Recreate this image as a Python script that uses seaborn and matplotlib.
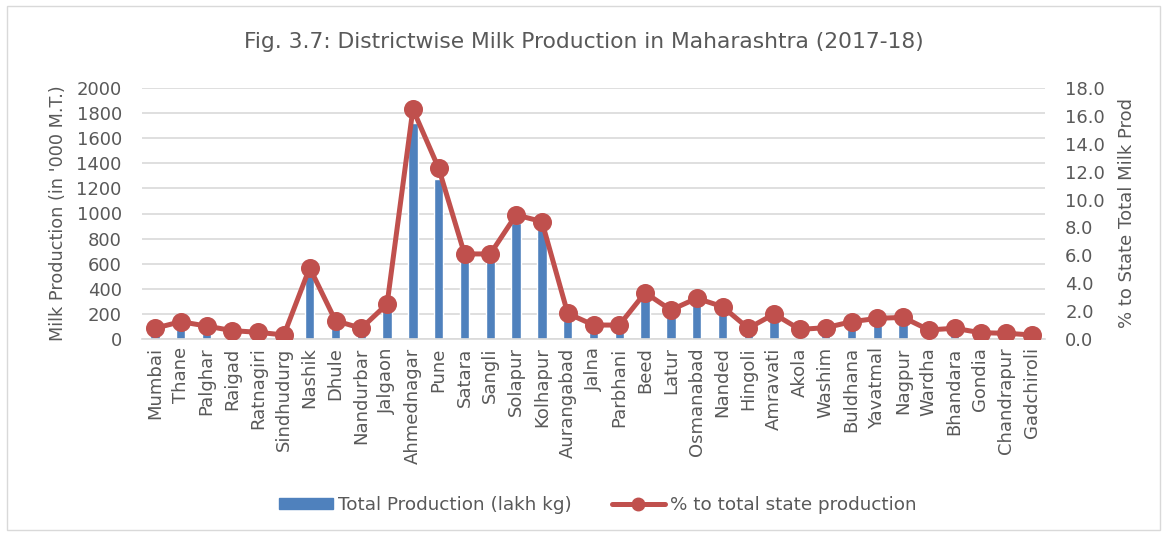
import matplotlib
matplotlib.use("Agg")
import matplotlib.pyplot as plt
import seaborn as sns
import pandas as pd
from matplotlib.patches import Rectangle
from matplotlib.lines import Line2D
from matplotlib.ticker import FuncFormatter, MultipleLocator

districts = ["Mumbai", "Thane", "Palghar", "Raigad", "Ratnagiri", "Sindhudurg", "Nashik",
             "Dhule", "Nandurbar", "Jalgaon", "Ahmednagar", "Pune", "Satara", "Sangli",
             "Solapur", "Kolhapur", "Aurangabad", "Jalna", "Parbhani", "Beed", "Latur",
             "Osmanabad", "Nanded", "Hingoli", "Amravati", "Akola", "Washim", "Buldhana",
             "Yavatmal", "Nagpur", "Wardha", "Bhandara", "Gondia", "Chandrapur", "Gadchiroli"]
production = [80, 130, 97, 63, 50, 30, 515, 137, 80, 262, 1721, 1272, 636, 636, 925, 876,
              192, 104, 104, 346, 217, 304, 242, 80, 187, 72, 84, 129, 154, 161, 68, 80,
              47, 43, 30]
share_pct = [0.77, 1.24, 0.93, 0.60, 0.48, 0.29, 5.11, 1.31, 0.77, 2.51, 16.48, 12.24, 6.10,
             6.10, 8.90, 8.42, 1.84, 1.00, 1.00, 3.32, 2.08, 2.92, 2.32, 0.77, 1.79, 0.69,
             0.81, 1.24, 1.48, 1.55, 0.65, 0.77, 0.45, 0.41, 0.29]

df = pd.DataFrame({"district": districts, "production": production, "share": share_pct})

sns.set_theme(style="white")
plt.rcParams["font.family"] = ["DejaVu Sans"]
text_col = "#595959"
bar_col = "#4F81BD"
line_col = "#C0504D"
grid_col = "#D9D9D9"

fig = plt.figure(figsize=(11.67, 5.36), dpi=100)
ax = fig.add_axes([142 / 1167, 1 - 339 / 536, (1045 - 142) / 1167, (339 - 88) / 536])

# bars: total production (left axis)
sns.barplot(data=df, x="district", y="production", color=bar_col, width=0.37,
            saturation=1, ax=ax, zorder=2)
ax.set_ylim(0, 2000)
ax.yaxis.set_major_locator(MultipleLocator(200))
ax.set_xlim(-0.5, len(districts) - 0.5)
ax.grid(axis="y", color=grid_col, linewidth=1.2, zorder=0)
ax.set_axisbelow(True)
for s in ["top", "right", "left"]:
    ax.spines[s].set_visible(False)
ax.spines["bottom"].set_color(grid_col)
ax.spines["bottom"].set_linewidth(1.2)
ax.tick_params(axis="both", length=0, colors=text_col, labelsize=13)
ax.tick_params(axis="x", rotation=90, pad=6)
ax.tick_params(axis="y", pad=14.5)
ax.set_xlabel("")
ax.set_ylabel("Milk Production (in '000 M.T.)", color=text_col, fontsize=12.7, labelpad=7)

# line: share of state total (right axis)
ax2 = ax.twinx()
sns.pointplot(data=df, x="district", y="share", color=line_col, markers="o",
              markersize=11, linewidth=3.6, ax=ax2, zorder=3)
ax2.set_ylim(0, 18)
ax2.set_xlim(-0.5, len(districts) - 0.5)
ax2.yaxis.set_major_locator(MultipleLocator(2))
ax2.yaxis.set_major_formatter(FuncFormatter(lambda v, _: f"{v:.1f}"))
for s in ax2.spines.values():
    s.set_visible(False)
ax2.tick_params(axis="y", length=0, colors=text_col, labelsize=13, pad=14.5)
ax2.set_ylabel("% to State Total Milk Prod", color=text_col, fontsize=13, labelpad=9)
ax2.set_xlabel("")

fig.text(0.5, 1 - 42 / 536, "Fig. 3.7: Districtwise Milk Production in Maharashtra (2017-18)",
         ha="center", va="center", fontsize=15.7, color=text_col)

handles = [Rectangle((0, 0), 1, 1, color=bar_col),
           Line2D([0], [0], color=line_col, linewidth=3.6, marker="o", markersize=9)]
fig.legend(handles, ["Total Production (lakh kg)", "% to total state production"],
           loc="center", bbox_to_anchor=(598 / 1167, 1 - 505 / 536), ncol=2, frameon=False,
           fontsize=13.2, labelcolor=text_col, handlelength=2.9, handleheight=0.55,
           columnspacing=2.2, handletextpad=0.28)

fig.add_artist(Rectangle((7 / 1167, 1 - 530 / 536), 1153 / 1167, 524 / 536,
                         transform=fig.transFigure, fill=False, edgecolor="#D9D9D9",
                         linewidth=1))

fig.savefig("out.png", dpi=100, facecolor="white")
